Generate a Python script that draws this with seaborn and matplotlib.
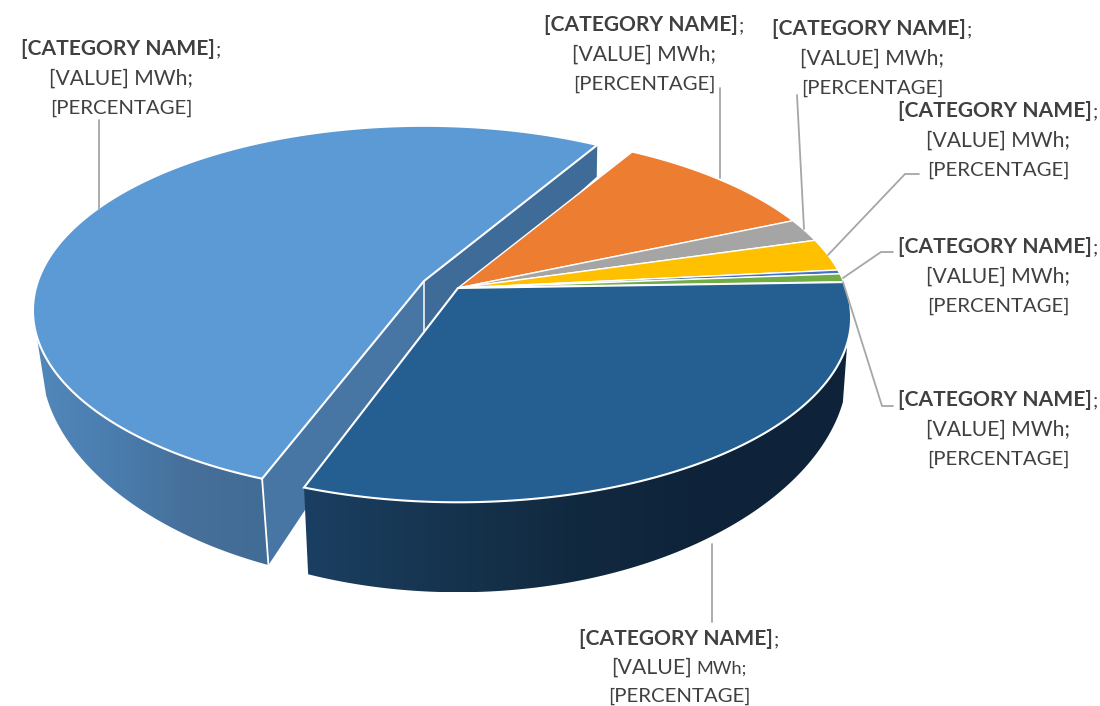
import numpy as np
import matplotlib
matplotlib.use("Agg")
import matplotlib.pyplot as plt
from matplotlib.patches import Polygon
import seaborn as sns

# shares of the pie in percent
slice_names = ["Light", "Orange", "Gray", "Yellow", "Thin", "Green", "Dark"]
slice_shares = [52.9, 10.0, 2.05, 2.85, 0.35, 0.75, 31.1]
slice_colors = ["#5b9ad5", "#ed7d31", "#a5a5a5", "#ffc000", "#4472c4", "#70ad47", "#255e91"]

label_name = "[CATEGORY NAME]"
label_value = "[VALUE]"
label_unit = "MWh;"
label_percent = "[PERCENTAGE]"

# first slice starts here, clockwise from the far side of the pie
start_angle = 200.9
# the pulled out slice eats a little of the circle in this view
full_turn = 358.8

TEXT_COLOR = "#404040"
LEADER_COLOR = "#a6a6a6"
BOLD_SIZE = 15.1
FONT_SIZE = 14.7


def project(angle, apex, width, height, kx, ky):
	# perspective view of a unit circle, apex is where the centre lands
	t = np.radians(angle)
	u, v = np.sin(t), np.cos(t)
	return apex[0] + width * u / (1 + kx * v), apex[1] - height * v / (1 + ky * v)


def top_view(angle, apex, width=388):
	return project(angle, apex, width, 180, 0.16, 0.16)


def floor_view(angle, apex, width):
	return project(angle, apex, width, 207.6, 0.14, 0.1835)


def draw_wall(ax, a0, a1, apex, floor_apex, top_width, width, colors):
	# gradient runs left to right, clipped to the outline of the wall
	angles = np.linspace(a0, a1, 200)
	xa, ya = top_view(angles, apex, top_width)
	xb, yb = floor_view(angles, floor_apex, width)
	xs, ys = np.r_[xa, xb[::-1]], np.r_[ya, yb[::-1]]
	im = ax.imshow(
		np.array(colors)[None, :, :],
		extent=(xs.min(), xs.max(), ys.max(), ys.min()),
		aspect="auto",
		interpolation="bilinear",
		zorder=2,
	)
	im.set_clip_path(Polygon(np.c_[xs, ys], transform=ax.transData))


def draw_top(ax, a0, a1, apex, color, lw, zorder=3, width=388):
	xs, ys = top_view(np.linspace(a0, a1, 200), apex, width)
	ax.fill(np.r_[apex[0], xs], np.r_[apex[1], ys], facecolor=color, edgecolor="white", lw=lw, zorder=zorder, joinstyle="miter")


def draw_runs(ax, fig, cx, y, runs):
	# a centred line that mixes bold and regular pieces
	renderer = fig.canvas.get_renderer()
	items = []
	total = 0
	for txt, weight, size, gap in runs:
		t = ax.text(0, y, txt, fontweight=weight, fontsize=size, color=TEXT_COLOR, ha="left", va="baseline", zorder=6)
		w = t.get_window_extent(renderer).width
		items.append((t, w, gap))
		total += w + gap
	x = cx - total / 2
	for t, w, gap in items:
		t.set_x(x)
		x += w + gap


def draw_label(ax, fig, cx, y, small_unit=False, step=29.5):
	draw_runs(ax, fig, cx, y, [(label_name, "bold", BOLD_SIZE, 1), (";", "normal", FONT_SIZE, 0)])
	if small_unit:
		draw_runs(ax, fig, cx, y + step, [(label_value, "normal", FONT_SIZE + 0.6, 4), (label_unit, "normal", FONT_SIZE - 1.6, 0)])
	else:
		draw_runs(ax, fig, cx, y + step, [(label_value + " " + label_unit, "normal", FONT_SIZE + 0.5, 0)])
	draw_runs(ax, fig, cx, y + 2 * step, [(label_percent, "normal", FONT_SIZE, 0)])


sns.set_theme(style="white")
plt.rcParams["font.family"] = ["Lato", "DejaVu Sans"]

fig, ax = plt.subplots(figsize=(11, 7.06), dpi=100)
ax.set_position([0, 0, 1, 1])
ax.axis("off")
fig.canvas.draw()

spans = np.array(slice_shares) / sum(slice_shares) * full_turn
ends = start_angle + np.cumsum(spans)
starts = ends - spans

apex_light, floor_light = (424, 281), (424, 331)
apex_rest, floor_rest = (458, 288), (458, 338)
width_light = 386

# cut faces of the pulled out slice
far_x, far_y = top_view(ends[0], apex_light, width_light)
far_fx, far_fy = floor_view(ends[0], floor_light, 379)
near_x, near_y = top_view(starts[0], apex_light, width_light)
near_fx, near_fy = floor_view(starts[0], floor_light, 379)
ax.fill([apex_light[0], far_x, far_fx, floor_light[0]], [apex_light[1], far_y, far_fy, floor_light[1]], color="#3f6b98", lw=0, zorder=0.5)
ax.fill([apex_light[0], near_x, near_fx, floor_light[0]], [apex_light[1], near_y, near_fy, floor_light[1]], color="#4876a4", lw=0, zorder=1.6)

# the small slices sit in front of the far cut face
for i in range(1, 6):
	draw_top(ax, starts[i], ends[i], apex_rest, slice_colors[i], 1.0, zorder=1)

draw_wall(ax, starts[0], 253, apex_light, floor_light, width_light, 379, sns.blend_palette(["#5287ba", "#4a7dae", "#466f99", "#416c95"], 90))
ax.plot([apex_light[0], floor_light[0]], [apex_light[1], floor_light[1]], color="white", lw=1.1, zorder=2.5)
ax.plot([near_x, near_fx], [near_y, near_fy], color="white", lw=1.3, zorder=2.5)
draw_top(ax, starts[0], ends[0], apex_light, slice_colors[0], 1.5, width=width_light)

draw_wall(ax, 107, ends[6] - 360, apex_rest, floor_rest, 388, 386, sns.blend_palette(["#1b3f62", "#16344f", "#11293f", "#0e2339", "#0e2339"], 140))
draw_top(ax, starts[6], ends[6], apex_rest, slice_colors[6], 1.5, zorder=4)

# leader lines
leaders = [
	([99, 99], [120, 209]),
	([720, 720], [88, 178]),
	([797, 804], [95, 229]),
	([919, 905, 828], [174, 174, 255]),
	([893, 881, 843], [252, 252, 278]),
	([893, 882, 843], [406, 406, 282]),
	([712, 712], [544, 622]),
]
for xs, ys in leaders:
	ax.plot(xs, ys, color=LEADER_COLOR, lw=1.3, zorder=5)

for cx, y in [(121, 55), (644, 31), (872, 35), (998, 117), (998, 253), (998, 406)]:
	draw_label(ax, fig, cx, y)
draw_label(ax, fig, 679, 645, small_unit=True, step=28.5)

ax.set_xlim(0, 1100)
ax.set_ylim(706, 0)
fig.savefig("out.png", dpi=100)
plt.close(fig)
